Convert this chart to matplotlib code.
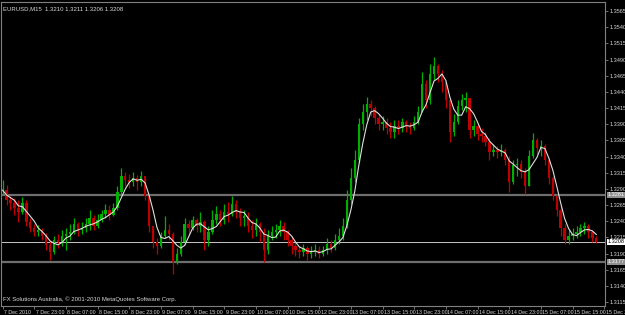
import numpy as np
import pandas as pd
import matplotlib
matplotlib.use("Agg")
import matplotlib.pyplot as plt
import matplotlib.transforms as mtransforms

# hourly bars EURUSD 7 Dec 15:00 -> 15 Dec 22:00
close = [1.3288,1.3273,1.3268,1.3260,1.3254,1.3268,1.3239,1.3230,1.3223,1.3226,
         1.3217,1.3203,1.3192,1.3211,1.3208,1.3217,1.3220,1.3223,1.3236,1.3226,
         1.3230,1.3236,1.3245,1.3233,1.3242,1.3251,1.3257,1.3250,1.3260,1.3285,
         1.3310,1.3304,1.3301,1.3307,1.3301,1.3310,1.3279,1.3233,1.3208,1.3202,
         1.3217,1.3226,1.3220,1.3177,1.3189,1.3208,1.3236,1.3230,1.3242,1.3233,
         1.3239,1.3211,1.3223,1.3242,1.3251,1.3242,1.3254,1.3251,1.3267,1.3254,
         1.3245,1.3248,1.3233,1.3226,1.3236,1.3223,1.3196,1.3217,1.3223,1.3226,
         1.3233,1.3223,1.3211,1.3202,1.3196,1.3192,1.3199,1.3189,1.3192,1.3196,
         1.3189,1.3196,1.3205,1.3199,1.3211,1.3217,1.3233,1.3273,1.3307,1.3335,
         1.3390,1.3409,1.3421,1.3415,1.3399,1.3390,1.3393,1.3384,1.3378,1.3387,
         1.3384,1.3393,1.3387,1.3384,1.3393,1.3409,1.3452,1.3427,1.3468,1.3480,
         1.3468,1.3455,1.3427,1.3378,1.3393,1.3418,1.3427,1.3430,1.3381,1.3387,
         1.3375,1.3372,1.3362,1.3347,1.3350,1.3347,1.3350,1.3335,1.3301,1.3327,
         1.3328,1.3316,1.3294,1.3341,1.3366,1.3353,1.3356,1.3335,1.3307,1.3279,
         1.3257,1.3230,1.3211,1.3217,1.3220,1.3223,1.3230,1.3233,1.3223,1.3214,
         1.3208]
high = [1.3304,1.3296,1.3279,1.3276,1.3273,1.3277,1.3273,1.3245,1.3236,1.3234,
        1.3230,1.3222,1.3211,1.3217,1.3220,1.3226,1.3230,1.3236,1.3245,1.3239,
        1.3239,1.3245,1.3257,1.3250,1.3251,1.3257,1.3267,1.3265,1.3268,1.3294,
        1.3322,1.3316,1.3313,1.3316,1.3311,1.3318,1.3307,1.3282,1.3230,1.3214,
        1.3223,1.3248,1.3236,1.3223,1.3199,1.3217,1.3245,1.3242,1.3248,1.3245,
        1.3254,1.3242,1.3233,1.3257,1.3263,1.3257,1.3267,1.3270,1.3279,1.3273,
        1.3261,1.3257,1.3254,1.3242,1.3245,1.3239,1.3230,1.3226,1.3233,1.3236,
        1.3242,1.3239,1.3226,1.3217,1.3208,1.3202,1.3205,1.3202,1.3202,1.3205,
        1.3202,1.3202,1.3214,1.3211,1.3220,1.3230,1.3245,1.3288,1.3323,1.3350,
        1.3400,1.3421,1.3432,1.3427,1.3418,1.3406,1.3403,1.3400,1.3393,1.3397,
        1.3397,1.3400,1.3397,1.3393,1.3403,1.3418,1.3471,1.3458,1.3483,1.3494,
        1.3483,1.3474,1.3452,1.3430,1.3406,1.3427,1.3437,1.3440,1.3430,1.3397,
        1.3390,1.3384,1.3378,1.3369,1.3359,1.3356,1.3359,1.3353,1.3341,1.3335,
        1.3338,1.3335,1.3323,1.3350,1.3376,1.3369,1.3366,1.3359,1.3338,1.3310,
        1.3282,1.3263,1.3236,1.3226,1.3230,1.3233,1.3236,1.3239,1.3236,1.3226,
        1.3217]
low = [1.3281,1.3265,1.3257,1.3250,1.3239,1.3251,1.3233,1.3223,1.3217,1.3217,
       1.3211,1.3196,1.3180,1.3189,1.3199,1.3202,1.3196,1.3211,1.3220,1.3217,
       1.3220,1.3223,1.3226,1.3226,1.3230,1.3239,1.3245,1.3242,1.3248,1.3257,
       1.3282,1.3294,1.3291,1.3294,1.3288,1.3294,1.3273,1.3223,1.3199,1.3189,
       1.3199,1.3214,1.3211,1.3158,1.3174,1.3186,1.3205,1.3220,1.3226,1.3223,
       1.3223,1.3196,1.3202,1.3220,1.3236,1.3233,1.3236,1.3239,1.3248,1.3245,
       1.3233,1.3233,1.3223,1.3214,1.3217,1.3208,1.3177,1.3189,1.3211,1.3214,
       1.3217,1.3211,1.3202,1.3189,1.3186,1.3183,1.3186,1.3180,1.3183,1.3186,
       1.3183,1.3186,1.3189,1.3192,1.3196,1.3205,1.3211,1.3230,1.3267,1.3301,
       1.3331,1.3381,1.3397,1.3403,1.3390,1.3381,1.3381,1.3375,1.3369,1.3369,
       1.3375,1.3378,1.3378,1.3375,1.3381,1.3390,1.3409,1.3415,1.3421,1.3458,
       1.3455,1.3440,1.3415,1.3362,1.3372,1.3390,1.3412,1.3409,1.3369,1.3372,
       1.3366,1.3362,1.3356,1.3335,1.3341,1.3338,1.3341,1.3327,1.3285,1.3298,
       1.3310,1.3307,1.3282,1.3294,1.3338,1.3344,1.3341,1.3327,1.3298,1.3273,
       1.3248,1.3217,1.3205,1.3205,1.3211,1.3214,1.3217,1.3220,1.3214,1.3208,
       1.3206]
open_ = [close[0]] + close[:-1]

time_labels = ["7 Dec 2010","7 Dec 23:00","8 Dec 07:00","8 Dec 15:00","8 Dec 23:00",
               "9 Dec 07:00","9 Dec 15:00","9 Dec 23:00","10 Dec 07:00","10 Dec 15:00",
               "12 Dec 23:00","13 Dec 07:00","13 Dec 15:00","13 Dec 23:00","14 Dec 07:00",
               "14 Dec 15:00","14 Dec 23:00","15 Dec 07:00","15 Dec 15:00","15 Dec 23:00"]
price_ticks = [1.3115,1.3140,1.3165,1.3190,1.3215,1.3240,1.3265,1.3290,1.3315,1.3340,
               1.3365,1.3390,1.3415,1.3440,1.3465,1.3490,1.3515,1.3540,1.3565]
levels = [1.3281, 1.3177]
last_price = close[-1]

plt.rcParams['font.family'] = ['Liberation Sans Narrow', 'Liberation Sans', 'DejaVu Sans']
grey = '#808080'
txt = '#d8d8d8'
fs = 4.0

fig = plt.figure(figsize=(6.25, 3.15), dpi=100, facecolor='black')
ax = fig.add_axes([1/625, 9/315, 604/625, 304/315], facecolor='black')

x = np.arange(len(close))
o = np.array(open_); c = np.array(close)
cols = np.where(c >= o, '#00b000', '#c00000')
ax.vlines(x, low, high, colors=cols, lw=0.9, zorder=2)
body = np.where(np.abs(c - o) < 0.00005, 0.00005, c - o)
ax.bar(x, body, bottom=o, width=0.6, color=cols, zorder=2)

ma = pd.Series(close).rolling(4, min_periods=1).mean()
ax.plot(x, ma, color='#e0e0e0', lw=0.8, zorder=3)

for lv in levels:
    ax.axhline(lv, color='#6e6e6e', lw=1.6, zorder=1)
ax.axhline(last_price, color='#c8c8c8', lw=0.7, zorder=1)

ax.set_xlim(-0.4, 152.2)
ax.set_ylim(1.31089, 1.35789)

for s in ax.spines.values():
    s.set_color(grey)
    s.set_linewidth(0.8)

ax.yaxis.tick_right()
ax.set_yticks(price_ticks)
ax.set_yticklabels(["%.4f" % p for p in price_ticks])
ax.tick_params(axis='y', colors=grey, labelcolor=txt, labelsize=fs, length=2, width=0.6, pad=1)
ax.set_xticks(np.arange(0, 8 * len(time_labels), 8))
ax.set_xticklabels([])
ax.tick_params(axis='x', colors=grey, length=2.5, width=0.6)

trans = mtransforms.blended_transform_factory(ax.transData, ax.transAxes)
for k, lab in enumerate(time_labels):
    ax.text(8 * k + 0.4, -0.012, lab, transform=trans, color=txt, fontsize=3.8,
            ha='left', va='top', clip_on=False)

# price boxes on the right
ytr = mtransforms.blended_transform_factory(ax.transAxes, ax.transData)
for lv in levels:
    ax.text(1.005, lv, "%.4f" % lv, transform=ytr, fontsize=fs, color='white', ha='left', va='center',
            bbox=dict(boxstyle='square,pad=0.12', fc='#909090', ec='none'), clip_on=False, zorder=5)
ax.text(1.005, last_price, "%.4f" % last_price, transform=ytr, fontsize=fs, color='black', ha='left',
        va='center', bbox=dict(boxstyle='square,pad=0.12', fc='white', ec='none'), clip_on=False, zorder=5)

ax.text(0.004, 0.985, "EURUSD,M15  1.3210 1.3211 1.3206 1.3208", transform=ax.transAxes,
        color=txt, fontsize=4.3, ha='left', va='top')
ax.text(0.004, 0.012, "FX Solutions Australia, \u00a9 2001-2010 MetaQuotes Software Corp.",
        transform=ax.transAxes, color=txt, fontsize=4.3, ha='left', va='bottom')

fig.savefig("out.png", dpi=100, facecolor='black')
